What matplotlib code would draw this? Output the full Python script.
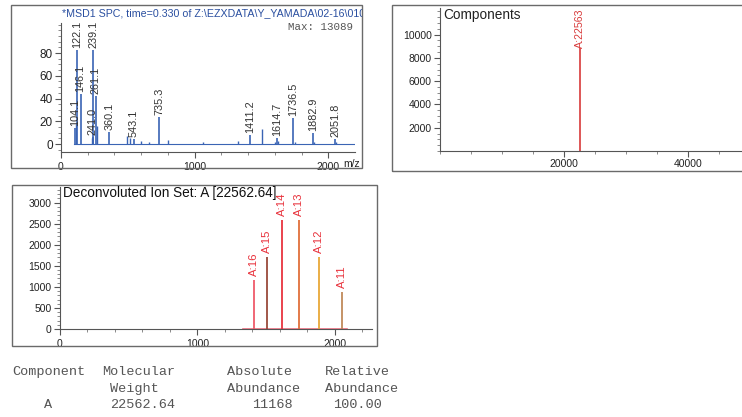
# -*- coding: utf-8 -*-
import matplotlib
matplotlib.use('Agg')
import matplotlib.pyplot as plt
from matplotlib.patches import Rectangle
from matplotlib.ticker import FixedLocator, MultipleLocator

W, H = 742, 417

# top left: raw MS spectrum (relative intensity)
ms_title = '*MSD1 SPC, time=0.330 of Z:\\EZXDATA\\Y_YAMADA\\02-16\\0101.D'
ms_max = 'Max: 13089'
ms_peak_mz = [104.1, 122.1, 146.1, 239.1, 241.0, 261.1, 360.1, 543.1,
              735.3, 1411.2, 1614.7, 1736.5, 1882.9, 2051.8]
ms_peak_int = [14, 82.5, 44, 83, 6, 42, 10.5, 4.5,
               24, 8, 5.5, 22.6, 9.5, 4]
ms_label_mz = [104.1, 122.1, 146.1, 244.0, 236.0, 261.1, 360.1, 543.1,
               735.3, 1411.2, 1614.7, 1736.5, 1882.9, 2051.8]
ms_minor_mz = [114, 229, 272, 492, 516, 600, 660, 800, 1064, 1325,
               1505, 1600, 1625, 1750, 1890, 2060]
ms_minor_int = [18, 5, 16, 7, 5, 3, 2, 3.5, 1.5, 2.5,
                13.5, 2, 2.5, 2, 2, 1.5]
ms_base_mz = [100, 2200]
ms_base_int = [0.3, 0.3]

# top right: deconvoluted components
comp_title = 'Components'
comp_mass = [22563]
comp_abund = [11168]
comp_labels = ['A:22563']

# bottom: deconvoluted ion set
ion_title = 'Deconvoluted Ion Set: A [22562.64]'
ion_mz = [1411.2, 1505.2, 1614.7, 1736.5, 1882.9, 2051.8]
ion_abund = [1170, 1720, 2600, 2600, 1720, 890]
ion_labels = ['A:16', 'A:15', 'A:14', 'A:13', 'A:12', 'A:11']
ion_colors = ['#ef5a6a', '#9a4a3a', '#e8343f', '#e0703a', '#e8a838', '#c08a5a']
ion_base_mz = [1330, 2090]
ion_base_int = [0, 0]

# result table
table_head1 = ['Component', 'Molecular', 'Absolute', 'Relative']
table_head2 = ['', 'Weight', 'Abundance', 'Abundance']
table_row = ['A', '22562.64', '11168', '100.00']

plt.rcParams['font.family'] = ['Liberation Sans', 'DejaVu Sans']


def px_axes(fig, left, top, right, bottom):
    """ add an axes given its box in pixels from the top left corner. """
    return fig.add_axes([left / W, 1 - bottom / H,
                         (right - left) / W, (bottom - top) / H])


def px_text(fig, x, y, s, **kw):
    return fig.text(x / W, 1 - y / H, s, **kw)


def frame(fig, left, top, right, bottom):
    rect = Rectangle((left / W, 1 - bottom / H), (right - left) / W,
                     (bottom - top) / H, transform=fig.transFigure,
                     fill=False, edgecolor='#6a6a6a', lw=1.0)
    fig.add_artist(rect)
    return rect


def style_axes(ax):
    for side in ('top', 'right'):
        ax.spines[side].set_visible(False)
    for side in ('left', 'bottom'):
        ax.spines[side].set_color('#555555')
        ax.spines[side].set_linewidth(0.8)
    ax.tick_params(which='major', length=4, width=0.8, color='#555555',
                   labelsize=7.5, labelcolor='#222222', pad=2)
    ax.tick_params(which='minor', length=2, width=0.6, color='#777777')
    ax.patch.set_alpha(0)


fig = plt.figure(figsize=(W / 100, H / 100), dpi=100)

# ---- top left panel
box1 = frame(fig, 11, 5, 362, 168)
ax1 = px_axes(fig, 61, 23, 355, 152)
style_axes(ax1)
ax1.plot(ms_base_mz, ms_base_int, color='#3a64b4', lw=0.8)
ax1.vlines(ms_minor_mz, 0, ms_minor_int, color='#3a64b4', lw=1.0)
ax1.vlines(ms_peak_mz, 0, ms_peak_int, color='#3a64b4', lw=1.2)
for lx, mz, h in zip(ms_label_mz, ms_peak_mz, ms_peak_int):
    ax1.annotate(f'{mz:.1f}', (lx, h), xytext=(0, 1.5),
                 textcoords='offset points', rotation=90, ha='center',
                 va='bottom', fontsize=7.8, color='#333333')
ax1.set_xlim(0, 2199)
ax1.set_ylim(-7, 106.4)
ax1.xaxis.set_major_locator(FixedLocator([0, 1000, 2000]))
ax1.xaxis.set_minor_locator(MultipleLocator(200))
ax1.yaxis.set_major_locator(FixedLocator([0, 20, 40, 60, 80]))
ax1.yaxis.set_minor_locator(MultipleLocator(5))
ax1.tick_params(axis='x', pad=3.5)
ax1.tick_params(axis='y', labelsize=8.5)
t = px_text(fig, 62, 13, ms_title, fontsize=7.7, color='#2a4fa0',
            va='center', ha='left')
t.set_clip_path(box1)
px_text(fig, 288, 27, ms_max, family='Liberation Mono', fontsize=7.8,
        color='#555555', va='center', ha='left')
px_text(fig, 352, 164, 'm/z', fontsize=7.5, color='#222222',
        va='center', ha='center')

# ---- top right panel
frame(fig, 392, 5, 746, 171)
ax2 = px_axes(fig, 440, 8, 742, 151)
style_axes(ax2)
ax2.vlines(comp_mass, 0, comp_abund, color='#d83a3a', lw=1.2)
for m, lab in zip(comp_mass, comp_labels):
    ax2.text(m, 1.0, lab, transform=ax2.get_xaxis_transform(),
             rotation=90, ha='center', va='top', fontsize=7.7,
             color='#d83a3a',
             bbox=dict(facecolor='white', edgecolor='none', pad=0.5))
ax2.set_xlim(0, 48700)
ax2.set_ylim(0, 12285)
ax2.xaxis.set_major_locator(FixedLocator([20000, 40000]))
ax2.xaxis.set_minor_locator(MultipleLocator(5000))
ax2.yaxis.set_major_locator(FixedLocator([2000, 4000, 6000, 8000, 10000]))
ax2.yaxis.set_minor_locator(MultipleLocator(500))
px_text(fig, 443, 15, comp_title, fontsize=9.8, color='#222222',
        va='center', ha='left')

# ---- bottom panel
frame(fig, 12, 185, 377, 346)
ax3 = px_axes(fig, 60, 187, 372, 329)
style_axes(ax3)
ax3.plot(ion_base_mz, ion_base_int, color='#ef7080', lw=1.2, clip_on=False)
ax3.vlines(ion_mz, 0, ion_abund, colors=ion_colors, lw=1.3)
for mz, h, lab in zip(ion_mz, ion_abund, ion_labels):
    ax3.annotate(lab, (mz, h), xytext=(0, 2.5), textcoords='offset points',
                 rotation=90, ha='center', va='bottom', fontsize=8.2,
                 color='#e8303a')
ax3.set_xlim(0, 2270)
ax3.set_ylim(0, 3373)
ax3.xaxis.set_major_locator(FixedLocator([0, 1000, 2000]))
ax3.xaxis.set_minor_locator(MultipleLocator(200))
ax3.yaxis.set_major_locator(MultipleLocator(500))
ax3.yaxis.set_minor_locator(MultipleLocator(100))
ax3.set_yticks([0, 500, 1000, 1500, 2000, 2500, 3000])
ax3.tick_params(axis='x', pad=3.5)
px_text(fig, 63, 193.5, ion_title, fontsize=9.8, color='#111111',
        va='center', ha='left')

# ---- result table (monospace, like the instrument report)
col_x = [12, 102, 227, 325]
row_x = [48, 110, 252, 333]
mono = dict(family='Liberation Mono', fontsize=9.7, color='#555555',
            va='center')
for x, s in zip(col_x, table_head1):
    px_text(fig, x, 372, s, ha='left', **mono)
for x, s in zip([12, 110, 227, 325], table_head2):
    px_text(fig, x, 389, s, ha='left', **mono)
px_text(fig, row_x[0], 405, table_row[0], ha='center', **mono)
for x, s in zip(row_x[1:], table_row[1:]):
    px_text(fig, x, 405, s, ha='left', **mono)

fig.savefig('out.png', dpi=100)
